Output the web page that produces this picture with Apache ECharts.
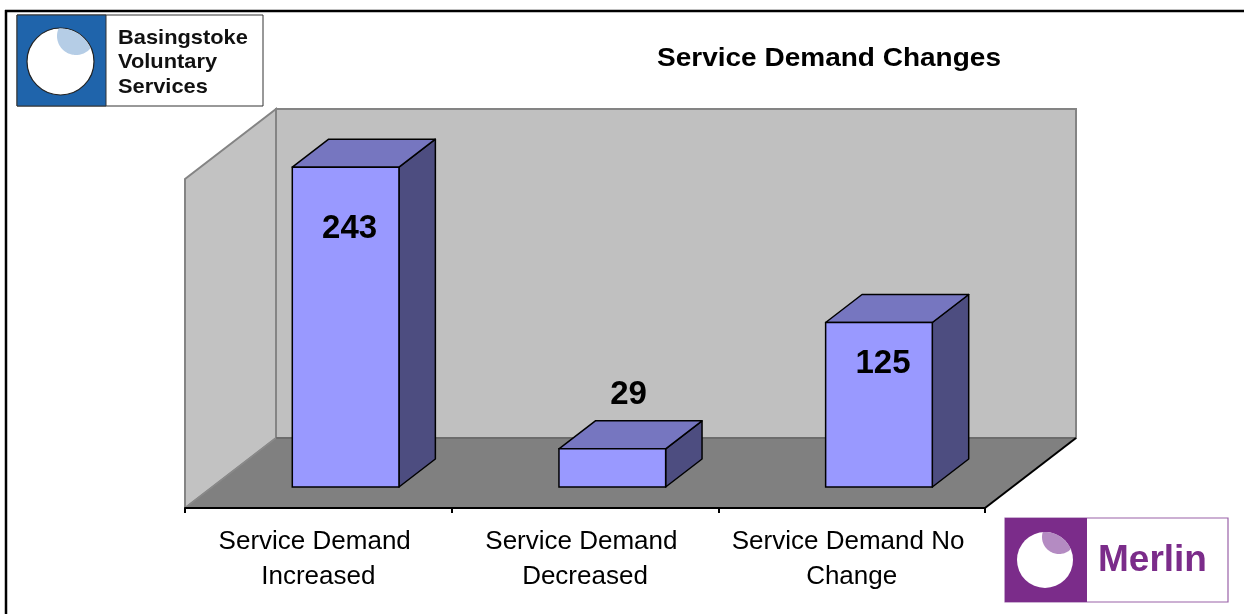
<!DOCTYPE html>
<html><head><meta charset="utf-8">
<script src="https://cdn.jsdelivr.net/npm/echarts@6/dist/echarts.min.js"></script>
<style>html,body{margin:0;padding:0;background:#fff}#c{width:1244px;height:614px}</style>
</head><body><div id="c"></div>
<script>
// ---- data ----
const categories = ['Service Demand Increased', 'Service Demand Decreased', 'Service Demand No Change'];
const values = [243, 29, 125];
const chartTitle = 'Service Demand Changes';
const logoLeftLines = ['Basingstoke', 'Voluntary', 'Services'];
const logoRightText = 'Merlin';

// ---- styling / projection ----
const FONT = '"Liberation Sans", Arial, Helvetica, sans-serif';
const DEPTH = [91, -70];       // 3D floor depth projection (px)
const BAR_DEPTH = 0.4;         // bar depth as fraction of floor depth
const BAR_OFF = 0.3;           // bar front plane offset into the floor
const barData = values.map((v, i) => [i, v]);

function renderWalls(params, api) {
  const cs = params.coordSys;
  const x0 = cs.x, x1 = cs.x + cs.width, yT = cs.y, yB = cs.y + cs.height;
  const dx = DEPTH[0], dy = DEPTH[1];
  return {
    type: 'group',
    children: [
      { type: 'polygon', shape: { points: [[x0 + dx, yT + dy], [x1 + dx, yT + dy], [x1 + dx, yB + dy], [x0 + dx, yB + dy]] },
        style: { fill: '#C0C0C0', stroke: '#848484', lineWidth: 2 } },
      { type: 'polygon', shape: { points: [[x0, yT], [x0 + dx, yT + dy], [x0 + dx, yB + dy], [x0, yB]] },
        style: { fill: '#C2C2C2', stroke: '#848484', lineWidth: 2 } },
      { type: 'polygon', shape: { points: [[x0, yB], [x0 + dx, yB + dy], [x1 + dx, yB + dy], [x1, yB]] },
        style: { fill: '#808080', stroke: null } },
      { type: 'line', shape: { x1: x0 + dx, y1: yB + dy, x2: x1 + dx, y2: yB + dy }, style: { stroke: '#6c6c6c', lineWidth: 2 } },
      { type: 'line', shape: { x1: x0, y1: yB, x2: x0 + dx, y2: yB + dy }, style: { stroke: '#8a8a8a', lineWidth: 1.5 } },
      { type: 'line', shape: { x1: x1, y1: yB, x2: x1 + dx, y2: yB + dy }, style: { stroke: '#000', lineWidth: 2 } }
    ]
  };
}

function renderBar(params, api) {
  const idx = api.value(0), v = api.value(1);
  const top = api.coord([idx, v]);
  const base = api.coord([idx, 0]);
  const band = api.size([1, 0])[0];
  const w = band * 0.4;
  const xl = top[0] - w / 2, xr = top[0] + w / 2;
  const bdx = DEPTH[0] * BAR_DEPTH, bdy = DEPTH[1] * BAR_DEPTH;
  const yt = top[1], yb = base[1];
  const h = yb - yt;
  let lx, ly;
  if (h > 100) { lx = top[0] + 4; ly = yt + 20 + 0.13 * h; }
  else { lx = top[0] + bdx / 2 - 2; ly = yt + bdy - 26; }
  return {
    type: 'group',
    children: [
      { type: 'polygon', shape: { points: [[xr, yt], [xr + bdx, yt + bdy], [xr + bdx, yb + bdy], [xr, yb]] },
        style: { fill: '#4D4D80', stroke: '#000', lineWidth: 1.5, lineJoin: 'round' } },
      { type: 'polygon', shape: { points: [[xl, yt], [xl + bdx, yt + bdy], [xr + bdx, yt + bdy], [xr, yt]] },
        style: { fill: '#7676C0', stroke: '#000', lineWidth: 1.5, lineJoin: 'round' } },
      { type: 'rect', shape: { x: xl, y: yt, width: w, height: h },
        style: { fill: '#9999FF', stroke: '#000', lineWidth: 1.5 } },
      { type: 'text', style: { text: String(v), x: lx, y: ly, fill: '#000', fontSize: 33, fontWeight: 'bold',
        fontFamily: FONT, align: 'center', verticalAlign: 'middle' } }
    ]
  };
}

function lens(c1, r1, c2, r2, n) {
  const dxv = c2[0] - c1[0], dyv = c2[1] - c1[1], d = Math.hypot(dxv, dyv);
  const ux = dxv / d, uy = dyv / d;
  const m = (r1 + (d - r2)) / 2;
  const p = [c1[0] + ux * m, c1[1] + uy * m];
  const pts = [];
  for (let i = 0; i < n; i++) {
    const a = i / n * Math.PI * 2, vx = Math.cos(a), vy = Math.sin(a);
    let t = Infinity;
    for (const [c, r] of [[c1, r1], [c2, r2]]) {
      const ox = p[0] - c[0], oy = p[1] - c[1];
      const b = ox * vx + oy * vy, cc = ox * ox + oy * oy - r * r;
      t = Math.min(t, -b + Math.sqrt(b * b - cc));
    }
    pts.push([p[0] + vx * t, p[1] + vy * t]);
  }
  return pts;
}

const chart = echarts.init(document.getElementById('c'), null, { renderer: 'canvas' });

const graphics = [
  // page frame
  { type: 'line', shape: { x1: 5, y1: 11, x2: 1244, y2: 11 }, style: { stroke: '#000', lineWidth: 2.5 }, z: 100 },
  { type: 'line', shape: { x1: 6, y1: 10, x2: 6, y2: 614 }, style: { stroke: '#000', lineWidth: 2.5 }, z: 100 },
  // title
  { type: 'text', x: 829, y: 59, scaleX: 1.12, z: 100,
    style: { text: chartTitle, fontSize: 25, fontWeight: 'bold', fontFamily: FONT, fill: '#000', align: 'center', verticalAlign: 'middle' } },
  // left logo
  { type: 'rect', shape: { x: 17, y: 15, width: 246, height: 91 }, style: { fill: '#fff', stroke: '#333', lineWidth: 1 }, z: 100 },
  { type: 'rect', shape: { x: 17, y: 15, width: 89, height: 91 }, style: { fill: '#1F64AB', stroke: '#333', lineWidth: 1 }, z: 100 },
  { type: 'circle', shape: { cx: 60.5, cy: 61.5, r: 33.5 }, style: { fill: '#fff', stroke: '#222', lineWidth: 1.2 }, z: 101 },
  { type: 'polygon', shape: { points: lens([60.5, 61.5], 33, [76, 36], 19, 120) }, style: { fill: '#B5CDE6' }, z: 102 },
  ...logoLeftLines.map((t, i) => ({ type: 'text', x: 118, y: 38 + i * 24.5, scaleX: 1.04, z: 100,
    style: { text: t, fontSize: 21, fontWeight: 'bold', fontFamily: FONT, fill: '#111', align: 'left', verticalAlign: 'middle' } })),
  // right logo
  { type: 'rect', shape: { x: 1005, y: 518, width: 223, height: 84 }, style: { fill: '#fff', stroke: '#9A62A8', lineWidth: 1.2 }, z: 100 },
  { type: 'rect', shape: { x: 1005, y: 518, width: 82, height: 84 }, style: { fill: '#7B2C8A' }, z: 100 },
  { type: 'circle', shape: { cx: 1045, cy: 560, r: 28 }, style: { fill: '#fff' }, z: 101 },
  { type: 'polygon', shape: { points: lens([1045, 560], 28, [1059, 537], 17, 120) }, style: { fill: '#B48BC2' }, z: 102 },
  { type: 'text', x: 1098, y: 561, z: 100,
    style: { text: logoRightText, fontSize: 37, fontWeight: 'bold', fontFamily: FONT, fill: '#7B2C8A', align: 'left', verticalAlign: 'middle' } }
];

chart.setOption({
  animation: false,
  backgroundColor: '#fff',
  grid: [
    { left: 185, top: 179, width: 800, height: 329 },                                   // front plane
    { left: 185 + DEPTH[0] * BAR_OFF, top: 179 + DEPTH[1] * BAR_OFF, width: 800, height: 329 } // bar plane
  ],
  xAxis: [
    { type: 'category', gridIndex: 0, data: categories, boundaryGap: true, z: 10,
      axisLine: { show: true, lineStyle: { color: '#000', width: 2 } },
      axisTick: { show: true, length: 5, lineStyle: { color: '#000', width: 2 } },
      axisLabel: { interval: 0, fontSize: 26, color: '#000', fontFamily: FONT, lineHeight: 35, margin: 16,
        width: 250, overflow: 'break' },
      splitLine: { show: false } },
    { type: 'category', gridIndex: 1, data: categories, boundaryGap: true, show: false }
  ],
  yAxis: [
    { type: 'value', gridIndex: 0, min: 0, max: 250, show: false },
    { type: 'value', gridIndex: 1, min: 0, max: 250, show: false }
  ],
  graphic: graphics,
  series: [
    { type: 'custom', name: 'walls', xAxisIndex: 0, yAxisIndex: 0, renderItem: renderWalls, data: [[0, 0]], clip: false, z: 1, silent: true },
    { type: 'custom', name: 'bars', xAxisIndex: 1, yAxisIndex: 1, renderItem: renderBar, data: barData, clip: false, z: 3 }
  ]
});
</script>
</body></html>
